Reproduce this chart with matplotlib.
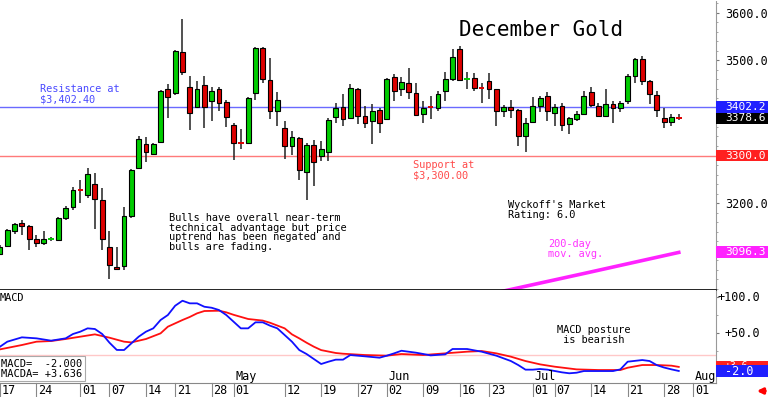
import matplotlib
matplotlib.use('Agg')
import matplotlib.pyplot as plt
import matplotlib.transforms as mtransforms
from matplotlib.patches import Rectangle
from matplotlib.ticker import FixedLocator, FixedFormatter, MultipleLocator

plt.rcParams['font.family'] = ['DejaVu Sans Mono', 'DejaVu Sans']

# daily candles, trading day 0 = Mar 17 ... 93 = Jul 30
opens = [3092, 3109, 3141, 3159, 3151, 3125, 3116, 3124, 3123, 3168,
         3192, 3228, 3218, 3241, 3207, 3108, 3066, 3067, 3172, 3273,
         3325, 3304, 3328, 3439, 3431, 3517, 3445, 3401, 3449, 3414,
         3440, 3413, 3365, 3328, 3326, 3431, 3526, 3459, 3394, 3358,
         3320, 3337, 3265, 3323, 3298, 3307, 3380, 3403, 3379, 3439,
         3384, 3373, 3396, 3377, 3464, 3440, 3453, 3432, 3387, 3402,
         3399, 3435, 3461, 3524, 3460, 3463, 3443, 3457, 3439, 3394,
         3403, 3396, 3340, 3371, 3404, 3425, 3390, 3404, 3366, 3376,
         3387, 3433, 3405, 3384, 3408, 3400, 3414, 3468, 3502, 3456,
         3428, 3379, 3371, 3381]
highs = [3112, 3145, 3159, 3164, 3153, 3132, 3141, 3128, 3171, 3193,
         3234, 3248, 3274, 3264, 3231, 3141, 3107, 3192, 3271, 3341,
         3338, 3327, 3437, 3450, 3521, 3587, 3467, 3457, 3467, 3443,
         3443, 3417, 3368, 3355, 3424, 3528, 3528, 3505, 3434, 3373,
         3351, 3338, 3326, 3333, 3331, 3379, 3410, 3429, 3450, 3442,
         3405, 3408, 3400, 3462, 3472, 3464, 3484, 3453, 3414, 3425,
         3436, 3475, 3524, 3531, 3476, 3474, 3453, 3474, 3440, 3407,
         3417, 3397, 3378, 3424, 3426, 3434, 3408, 3410, 3380, 3393,
         3436, 3443, 3411, 3440, 3414, 3414, 3472, 3506, 3509, 3459,
         3435, 3400, 3387, 3387]
lows = [3090, 3108, 3134, 3132, 3101, 3108, 3111, 3121, 3122, 3165,
        3185, 3200, 3211, 3146, 3102, 3041, 3060, 3059, 3169, 3271,
        3286, 3302, 3327, 3379, 3428, 3470, 3354, 3400, 3358, 3373,
        3393, 3359, 3290, 3313, 3324, 3417, 3452, 3377, 3363, 3293,
        3302, 3249, 3206, 3235, 3288, 3288, 3369, 3362, 3377, 3366,
        3358, 3325, 3348, 3376, 3414, 3425, 3418, 3386, 3369, 3376,
        3393, 3414, 3456, 3456, 3439, 3435, 3411, 3419, 3362, 3380,
        3378, 3321, 3307, 3369, 3392, 3372, 3362, 3351, 3345, 3373,
        3386, 3401, 3383, 3383, 3369, 3392, 3408, 3452, 3449, 3408,
        3382, 3357, 3362, 3375]
closes = [3108, 3143, 3157, 3152, 3125, 3116, 3125, 3125, 3168, 3189,
          3228, 3226, 3262, 3208, 3125, 3070, 3062, 3172, 3270, 3335,
          3307, 3325, 3436, 3422, 3519, 3476, 3389, 3439, 3401, 3436,
          3411, 3380, 3327, 3326, 3421, 3526, 3460, 3394, 3417, 3320,
          3338, 3269, 3323, 3286, 3313, 3375, 3400, 3377, 3442, 3383,
          3369, 3394, 3368, 3461, 3435, 3454, 3433, 3386, 3400, 3400,
          3429, 3460, 3508, 3459, 3461, 3442, 3441, 3440, 3394, 3401,
          3396, 3340, 3369, 3405, 3421, 3394, 3401, 3364, 3378, 3387,
          3425, 3407, 3384, 3408, 3400, 3411, 3467, 3502, 3456, 3429,
          3396, 3371, 3382, 3378.6]

# 200-day moving average (visible part)
ma_days = [66, 80, 93]
ma_vals = [3005, 3052, 3096.3]

# MACD line and its average, read at the turning points
macd_days = [0, 1, 3, 5, 7, 9, 10, 11, 12, 13, 14, 15, 16, 17, 18, 19, 20, 21,
             22, 23, 24, 25, 26, 27, 28, 29, 30, 31, 32, 33, 34, 35, 36, 37,
             38, 39, 40, 41, 42, 43, 44, 45, 46, 47, 48, 49, 50, 52, 53, 54,
             55, 57, 58, 59, 61, 62, 64, 65, 66, 68, 69, 70, 71, 72, 73, 74,
             75, 77, 78, 79, 80, 82, 84, 85, 86, 88, 89, 90, 91, 92, 93]
macd_vals = [31.5, 38.4, 44.4, 43.0, 39.8, 43.0, 49.0, 52.2, 56.8, 55.9, 49.0,
             37.0, 27.0, 26.9, 36.1, 45.3, 52.2, 56.8, 68.3, 75.2, 88.0, 94.9,
             91.3, 91.3, 86.6, 85.2, 82.1, 75.2, 66.0, 56.8, 56.8, 65.1, 65.1,
             60.5, 56.8, 47.6, 38.4, 26.9, 21.4, 14.5, 7.6, 10.8, 13.6, 13.6,
             20.0, 19.1, 18.2, 16.3, 19.1, 22.3, 25.9, 23.2, 21.4, 19.5, 20.9,
             28.3, 28.3, 26.4, 24.6, 19.1, 15.4, 11.7, 6.2, -0.2, -0.2, 0.7,
             -0.2, -3.9, -5.2, -4.4, -2.1, -2.1, -2.1, 0.2, 10.8, 13.1, 11.7,
             6.0, 2.7, 0.2, -2.0]
sig_days = [0, 3, 5, 7, 9, 11, 13, 15, 17, 18, 20, 22, 23, 25, 26, 27, 28, 30,
            31, 32, 34, 36, 37, 39, 40, 41, 42, 43, 44, 46, 47, 50, 53, 55,
            58, 61, 64, 66, 68, 70, 72, 74, 76, 79, 82, 85, 86, 88, 90, 92, 93]
sig_vals = [27.8, 33.8, 38.4, 39.3, 42.1, 45.3, 48.5, 43.9, 38.4, 37.4, 42.1,
            49.9, 59.1, 68.3, 72.5, 77.5, 80.7, 81.1, 78.9, 75.5, 69.7, 67.5,
            64.5, 56.8, 48.5, 43.0, 37.0, 31.5, 26.8, 22.8, 21.8, 20.0, 19.1,
            21.4, 20.0, 22.3, 24.6, 25.5, 22.3, 17.7, 11.7, 7.1, 3.9, 0.2,
            -0.7, -0.7, 2.5, 6.2, 6.2, 5.3, 3.6]

tick_days = [0, 5, 11, 15, 20, 24, 29, 32, 39, 44, 49, 53, 58, 63, 67, 73,
             76, 81, 86, 91, 95]
tick_labels = ['17', '24', '01', '07', '14', '21', '28', '01', '12', '19', '27',
               '02', '09', '16', '23', '01', '07', '14', '21', '28', '01']
month_days = [32, 53, 73, 95]
month_labels = ['May', 'Jun', 'Jul', 'Aug']

resistance = 3402.4
support = 3300.0

GREEN = '#00cc00'
RED = '#dd0000'

fig = plt.figure(figsize=(7.68, 3.97), dpi=100)
ax = fig.add_axes([0, 1 - 290 / 397, 716 / 768, 290 / 397])
axm = fig.add_axes([0, 1 - 383 / 397, 716 / 768, 93 / 397])

# ---- price panel
for i in range(len(opens)):
    o, h, l, c = opens[i], highs[i], lows[i], closes[i]
    col = GREEN if c >= o else RED
    ax.vlines(i, l, h, color='#222222', lw=1.1, zorder=2)
    if abs(c - o) < 3:
        ax.hlines((o + c) / 2, i - 0.38, i + 0.38, color=col, lw=1.4, zorder=3)
    else:
        ax.bar(i, abs(c - o), bottom=min(o, c), width=0.66, color=col,
               edgecolor='black', lw=0.8, zorder=3)

ax.axhline(resistance, color='#6a6aff', lw=1, zorder=1)
ax.axhline(support, color='#ff7a7a', lw=1, zorder=1)
ax.plot(ma_days, ma_vals, color='#ff22ff', lw=2.6, zorder=2)

ax.set_xlim(0, 98.1)
ax.set_ylim(3017.3, 3626.9)
for s in ['left', 'top']:
    ax.spines[s].set_visible(False)
ax.spines['bottom'].set_color('black')
ax.spines['bottom'].set_linewidth(1.2)
ax.spines['right'].set_color('#999999')
ax.spines['right'].set_linewidth(0.8)
ax.spines['right'].set_linestyle((0, (2, 1)))
ax.set_xticks([])
ax.yaxis.tick_right()
ax.yaxis.set_major_locator(FixedLocator([3100, 3200, 3300, 3400, 3500, 3600]))
ax.yaxis.set_major_formatter(FixedFormatter(['', '3200.0', '', '', '3500.0', '3600.0']))
ax.yaxis.set_minor_locator(MultipleLocator(20))
ax.tick_params(axis='y', which='major', length=2.5, width=0.8, color='#777777',
               pad=4, labelsize=8.5)
ax.tick_params(axis='y', which='minor', length=1.5, width=0.6, color='#999999')

trans = mtransforms.blended_transform_factory(ax.transAxes, ax.transData)
for val, fc, txt in [(3378.6, 'black', '3378.6'), (3402.2, '#2020ff', '3402.2'),
                     (3300.0, '#ff2020', '3300.0'), (3096.3, '#ff22ff', '3096.3')]:
    ax.add_patch(Rectangle((1.0, val - 12.5), 0.08, 25, transform=trans,
                           facecolor=fc, edgecolor='none', clip_on=False, zorder=5))
    ax.text(1.0125, val, txt, transform=trans, color='white', fontsize=8,
            va='center', ha='left', clip_on=False, zorder=6)

ax.text(459 / 716, 1 - 30 / 290, 'December Gold', transform=ax.transAxes,
        fontsize=15, va='center', ha='left')
ax.text(40 / 716, 1 - 84 / 290, 'Resistance at\n$3,402.40', transform=ax.transAxes,
        fontsize=7.4, color='#4a4aff', va='top', ha='left', linespacing=1.0)
ax.text(413 / 716, 1 - 160 / 290, 'Support at\n$3,300.00', transform=ax.transAxes,
        fontsize=7.4, color='#ff4a4a', va='top', ha='left', linespacing=1.0)
ax.text(169 / 716, 1 - 213 / 290,
        'Bulls have overall near-term\ntechnical advantage but price\n'
        'uptrend has been negated and\nbulls are fading.',
        transform=ax.transAxes, fontsize=7.4, va='top', ha='left', linespacing=0.95)
ax.text(508 / 716, 1 - 200 / 290, "Wyckoff's Market\nRating: 6.0",
        transform=ax.transAxes, fontsize=7.4, va='top', ha='left', linespacing=0.95)
ax.text(548 / 716, 1 - 239 / 290, '200-day\nmov. avg.', transform=ax.transAxes,
        fontsize=7.4, color='#ff33ff', va='top', ha='left', linespacing=0.95)

# ---- MACD panel
axm.axhline(20, color='#ffc8c8', lw=1, zorder=1)
axm.plot(sig_days, sig_vals, color='#ff1010', lw=1.3, zorder=3)
axm.plot(macd_days, macd_vals, color='#1010ff', lw=1.3, zorder=3)
axm.set_xlim(0, 98.1)
axm.set_ylim(-18.6, 109.7)
for s in ['left', 'top']:
    axm.spines[s].set_visible(False)
axm.spines['bottom'].set_color('#888888')
axm.spines['right'].set_color('#999999')
axm.spines['right'].set_linewidth(0.8)
axm.spines['right'].set_linestyle((0, (2, 1)))
axm.set_xticks([])
axm.yaxis.tick_right()
axm.yaxis.set_major_locator(FixedLocator([50, 100]))
axm.yaxis.set_major_formatter(FixedFormatter(['', '']))
axm.yaxis.set_minor_locator(MultipleLocator(25))
axm.tick_params(axis='y', which='major', length=2.5, width=0.8, color='#777777')
axm.tick_params(axis='y', which='minor', length=1.5, width=0.6, color='#999999')

mtrans = mtransforms.blended_transform_factory(axm.transAxes, axm.transData)
axm.text(1.002, 100, '+100.0', transform=mtrans, fontsize=8.5, va='center',
         ha='left', clip_on=False)
axm.text(1.0125, 50, '+50.0', transform=mtrans, fontsize=8.5, va='center',
         ha='left', clip_on=False)
red_box = Rectangle((1.0, 3.636 - 8.3), 0.08, 16.6, transform=mtrans,
                    facecolor='#ff2020', edgecolor='none', clip_on=False, zorder=5)
axm.add_patch(red_box)
axm.text(1.0125, 3.636 + 1.5, '+3.6', transform=mtrans, color='white', fontsize=7,
         va='center', ha='left', clip_on=False, zorder=5.5)
axm.add_patch(Rectangle((1.0, -2.0 - 8.3), 0.08, 16.6, transform=mtrans,
                        facecolor='#2020ff', edgecolor='none', clip_on=False, zorder=6))
axm.text(1.0125, -2.5, '-2.0', transform=mtrans, color='white', fontsize=8.5,
         va='center', ha='left', clip_on=False, zorder=7)

axm.text(0.0, 1 - 3 / 93, 'MACD', transform=axm.transAxes, fontsize=7.4,
         va='top', ha='left')
axm.text(557 / 716, 1 - 35 / 93, 'MACD posture\n is bearish', transform=axm.transAxes,
         fontsize=7.4, va='top', ha='left', linespacing=0.95)
axm.text(0.001, 1 - 69 / 93, 'MACD=  -2.000\nMACDA= +3.636', transform=axm.transAxes,
         fontsize=7.5, va='top', ha='left', linespacing=0.95,
         bbox=dict(boxstyle='square,pad=0.25', facecolor='white', edgecolor='#aaaaaa',
                   lw=0.8))

# date row under the MACD panel
dtrans = mtransforms.blended_transform_factory(axm.transData, axm.transAxes)
for d, lab in zip(tick_days, tick_labels):
    axm.plot([d, d], [0, -0.16], color='#888888', lw=0.8, transform=dtrans,
             clip_on=False)
    axm.text(d + 0.25, -0.08, lab, transform=dtrans, fontsize=8.5, va='center',
             ha='left', clip_on=False)
for d, lab in zip(month_days, month_labels):
    axm.text(d + 0.25, 0.07, lab, transform=dtrans, fontsize=8.5, va='center',
             ha='left', clip_on=False)

axm.annotate('', xy=(754, 6), xytext=(768, 6), xycoords='figure pixels',
             textcoords='figure pixels',
             arrowprops=dict(arrowstyle='-|>', color='red', lw=2.2, mutation_scale=8))

fig.savefig('out.png', dpi=100)
